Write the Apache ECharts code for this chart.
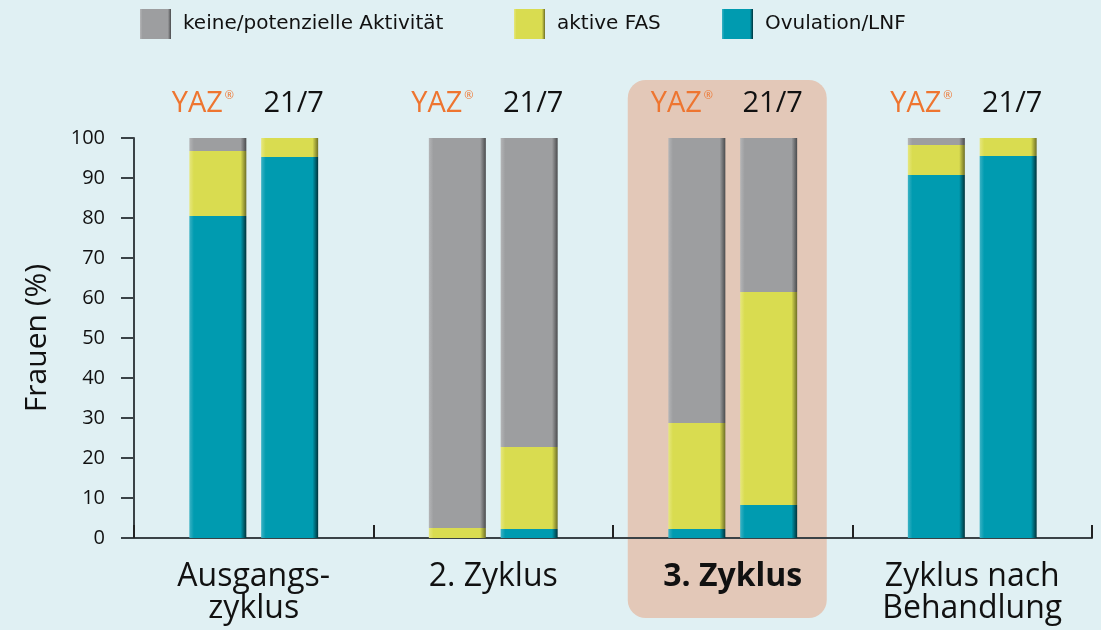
<!DOCTYPE html>
<html>
<head>
<meta charset="utf-8">
<script src="https://cdn.jsdelivr.net/npm/echarts@6/dist/echarts.min.js"></script>
<style>
  html, body { margin: 0; padding: 0; background: #e0f0f3; }
  #chart { width: 1101px; height: 630px; }
</style>
</head>
<body>
<div id="chart"></div>
<script>
// --- Data ---
const categories = ['Ausgangs-\nzyklus', '2. Zyklus', '3. Zyklus', 'Zyklus nach\nBehandlung'];
const legendNames = ['keine/potenzielle Aktivität', 'aktive FAS', 'Ovulation/LNF'];
const groupLabels = ['YAZ', '21/7'];

// YAZ bars (bottom to top)
const yazLnf = [80.5, 0, 2.25, 90.75];
const yazFas = [16.25, 2.5, 26.5, 7.5];
const yazNone = [3.25, 97.5, 71.25, 1.75];

// 21/7 bars
const r217Lnf = [95.25, 2.25, 8.25, 95.5];
const r217Fas = [4.75, 20.5, 53.25, 4.5];
const r217None = [0, 77.25, 38.5, 0];

const yTicks = [0, 10, 20, 30, 40, 50, 60, 70, 80, 90, 100];

// --- Styles ---
const FONT = 'Open Sans';
const ORANGE = '#ee7530';

function bevel(light, base, dark) {
  return new echarts.graphic.LinearGradient(0, 0, 1, 0, [
    { offset: 0, color: light },
    { offset: 0.08, color: base },
    { offset: 0.9, color: base },
    { offset: 1, color: dark },
  ]);
}

const colors = {
  none: bevel('#b4b5b7', '#9d9ea0', '#4a4b4d'),
  fas: bevel('#e6e77e', '#d9dc50', '#6e6f25'),
  lnf: bevel('#3bb2c4', '#009bb0', '#00323a'),
};

function barSeries(name, stack, data, color, label) {
  const s = {
    name,
    type: 'bar',
    stack,
    data,
    barWidth: 57,
    barGap: '26%',
    itemStyle: { color },
  };
  if (label) s.label = label;
  return s;
}

const yazLabel = {
  show: true,
  position: 'top',
  distance: 20,
  offset: [-15, 0],
  formatter: () => '{y|' + groupLabels[0] + '}{r|®}',
  rich: {
    y: { color: ORANGE, fontSize: 29, fontFamily: FONT },
    r: { color: ORANGE, fontSize: 11, fontFamily: FONT, padding: [0, 0, 16, 2] },
  },
};

const r217Label = {
  show: true,
  position: 'top',
  distance: 20,
  offset: [4, 0],
  formatter: () => groupLabels[1],
  color: '#111',
  fontSize: 29,
  fontFamily: FONT,
};

// one legend per item so each can sit where the reference has it
const legendLefts = [135, 509, 717];
const legends = legendNames.map((n, i) => ({
  data: [n],
  left: legendLefts[i],
  top: 4,
  icon: 'rect',
  itemWidth: 31,
  itemHeight: 30,
  textStyle: { color: '#111', fontSize: 20, fontFamily: 'DejaVu Sans', padding: [0, 0, 0, 7] },
}));

const chart = echarts.init(document.getElementById('chart'), null, { renderer: 'canvas' });

chart.setOption({
  backgroundColor: '#e0f0f3',
  animation: false,
  legend: legends,
  grid: { left: 134, right: 9, top: 138, bottom: 92 },
  xAxis: {
    type: 'category',
    data: categories,
    axisLine: { lineStyle: { color: '#3a4246', width: 2 } },
    axisTick: { show: true, inside: true, interval: 0, length: 13, lineStyle: { color: '#222', width: 2 } },
    axisLabel: {
      interval: 0,
      margin: 23,
      color: '#111',
      fontSize: 32,
      lineHeight: 32,
      fontFamily: FONT,
      formatter: (v) => v === categories[2] ? '{b|' + v + '}' : v,
      rich: { b: { fontWeight: 'bold', fontSize: 32, fontFamily: FONT, color: '#111' } },
    },
  },
  yAxis: {
    type: 'value',
    min: yTicks[0],
    max: yTicks[yTicks.length - 1],
    interval: 10,
    name: 'Frauen (%)',
    nameLocation: 'middle',
    nameGap: 82,
    nameTextStyle: { color: '#111', fontSize: 30, fontFamily: FONT },
    axisLine: { show: true, lineStyle: { color: '#3a4246', width: 2 } },
    axisTick: { show: true, length: 13, lineStyle: { color: '#3a4246', width: 2 } },
    axisLabel: { margin: 29, color: '#111', fontSize: 20, fontFamily: FONT },
    splitLine: { show: false },
  },
  series: [
    barSeries(legendNames[2], 'yaz', yazLnf, colors.lnf),
    barSeries(legendNames[1], 'yaz', yazFas, colors.fas),
    barSeries(legendNames[0], 'yaz', yazNone, colors.none, yazLabel),
    barSeries(legendNames[2], 'r217', r217Lnf, colors.lnf),
    barSeries(legendNames[1], 'r217', r217Fas, colors.fas),
    barSeries(legendNames[0], 'r217', r217None, colors.none, r217Label),
  ],
});

// --- Highlight box behind "3. Zyklus" ---
const cx = chart.convertToPixel({ xAxisIndex: 0 }, categories[2]);
chart.setOption({
  graphic: [{
    type: 'rect',
    z: -10,
    shape: { x: cx - 105, y: 80, width: 199, height: 538, r: 18 },
    style: { fill: '#e3c8b8' },
  }],
});
</script>
</body>
</html>
